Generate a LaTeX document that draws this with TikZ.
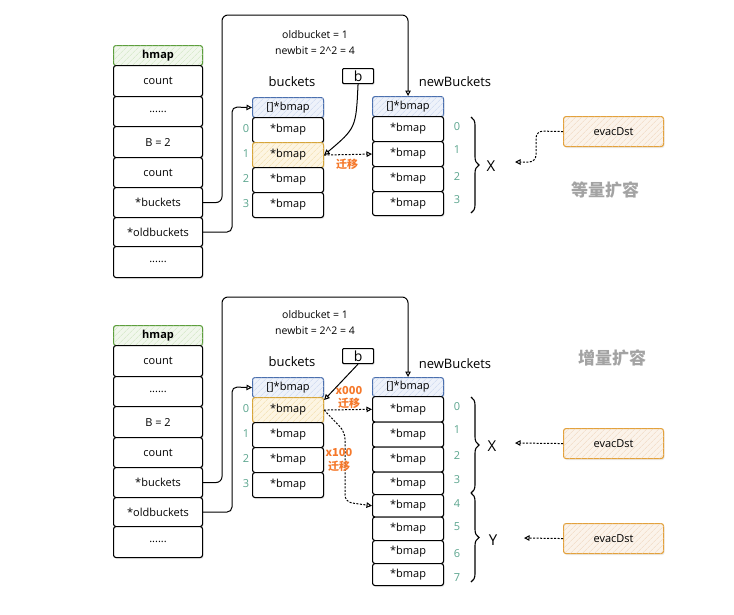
\documentclass[tikz,border=0pt]{standalone}
\usepackage{fontspec}
\setmainfont{Open Sans}
\newfontfamily\cjk{Noto Sans CJK SC}
\usetikzlibrary{arrows.meta,patterns.meta,decorations.pathreplacing,shadows,calc}
\definecolor{tealc}{HTML}{5BA58E}
\definecolor{orng}{HTML}{F5782A}
\definecolor{gB}{HTML}{5C9E3C}\definecolor{gF}{HTML}{F1F7EC}\definecolor{gH}{HTML}{CFE5C0}
\definecolor{bB}{HTML}{4A6FAE}\definecolor{bF}{HTML}{EEF2FA}\definecolor{bH}{HTML}{C9D6EE}
\definecolor{yB}{HTML}{D6A53A}\definecolor{yF}{HTML}{FDF5E2}\definecolor{yH}{HTML}{F2DDAA}
\definecolor{eB}{HTML}{E3A13B}\definecolor{eF}{HTML}{FBF3EA}\definecolor{eH}{HTML}{EFD6BE}
\definecolor{grayt}{HTML}{A3A3A3}
\tikzset{
  cell/.style={draw=black, line width=1.1pt, rounded corners=2.5pt, fill=white, inner sep=0pt,
    anchor=north west, font=\fontsize{11}{12}\selectfont,
    drop shadow={opacity=0.15, shadow xshift=1pt, shadow yshift=-1.5pt}},
  hatched/.style n args={3}{draw=#1, fill=#2,
    postaction={pattern={Lines[angle=45,distance=4pt,line width=0.5pt]}, pattern color=#3}},
  hdrG/.style={hatched={gB}{gF}{gH}},
  hdrB/.style={hatched={bB}{bF}{bH}},
  hl/.style={hatched={yB}{yF}{yH}},
  evbox/.style={cell, hatched={eB}{eF}{eH}, minimum width=100, minimum height=30},
  idx/.style={text=tealc, font=\fontsize{11}{12}\selectfont, inner sep=0pt},
  lbl/.style={font=\fontsize{10.5}{12}\selectfont, inner sep=0pt},
  ttl/.style={font=\fontsize{13}{14}\selectfont, inner sep=0pt},
  xy/.style={font=\fontsize{15}{16}\selectfont, inner sep=0pt},
  orlbl/.style={text=orng, font=\cjk\bfseries\fontsize{11}{12}\selectfont, inner sep=0pt},
  big/.style={text=grayt, font=\cjk\bfseries\fontsize{17}{20}\selectfont, inner sep=0pt},
  arr/.style={-{Triangle[open,length=5.5pt,width=5.5pt]}, line width=1pt},
  dasharr/.style={arr, dash pattern=on 2pt off 1.5pt},
  brc/.style={decorate, decoration={brace, amplitude=8pt}, line width=1.1pt},
}
\newcommand\commonpart[2]{%
  \node[cell,hdrG,minimum width=89,minimum height=20,font=\bfseries\fontsize{11}{12}\selectfont] (#1hh) at (113,45) {hmap};
  \node[cell,minimum width=89,minimum height=31] (#1h1) at (113,65) {count};
  \node[cell,minimum width=89,minimum height=30] (#1h2) at (113,96) {......};
  \node[cell,minimum width=89,minimum height=31] (#1h3) at (113,126) {B = 2};
  \node[cell,minimum width=89,minimum height=30] (#1h4) at (113,157) {count};
  \node[cell,minimum width=89,minimum height=30] (#1h5) at (113,187) {*buckets};
  \node[cell,minimum width=89,minimum height=29] (#1h6) at (113,217) {*oldbuckets};
  \node[cell,minimum width=89,minimum height=31] (#1h7) at (113,246) {......};
  \node[lbl] (#1t1) at (315,35) {oldbucket = 1};
  \node[lbl] (#1t2) at (315,51) {newbit = 2\^{}2 = 4};
  \node[ttl] (#1bt) at (292,82) {buckets};
  \node[cell,minimum width=31,minimum height=15,rounded corners=1pt,font=\fontsize{14}{14}\selectfont] (#1bb) at (342,68) {b};
  \node[cell,hdrB,minimum width=71,minimum height=20] (#1bh) at (252,97) {[]*bmap};
  \foreach \i/\y in {0/117,1/142,2/167,3/192}{%
    \ifnum\i=#2\relax
      \node[cell,hl,minimum width=71,minimum height=25] (#1b\i) at (252,\y) {*bmap};
    \else
      \node[cell,minimum width=71,minimum height=25] (#1b\i) at (252,\y) {*bmap};
    \fi
    \node[idx] (#1bi\i) at (246,\y+12) {\i};
  }
}
\begin{document}
\begin{tikzpicture}[x=1pt,y=-1pt]
\fill[white] (0,0) rectangle (734,614);
\useasboundingbox (0,0) rectangle (734,614);

% ---------- top diagram ----------
\commonpart{T}{1}
\node[ttl] (Tnt) at (455,82) {newBuckets};
\node[cell,hdrB,minimum width=71,minimum height=20] (Tnh) at (372,96) {[]*bmap};
\foreach \i/\y/\h/\ly in {0/116/25/127,1/141/25/150,2/166/25/177,3/191/24/200}{%
  \node[cell,minimum width=71,minimum height=\h] (Tn\i) at (372,\y) {*bmap};
  \node[idx] (Tni\i) at (457,\ly) {\i};
}
\draw[brc] (471,117) -- (471,213);
\node[xy] (TX) at (491,166) {X};
\node[evbox] (Tev) at (563,116) {evacDst};
\coordinate (TXa) at (515,162);
\node[big] (Tbig) at (605,190) {等量扩容};

\draw[arr, rounded corners=6] (Th5.east) -| (222,15) -| (Tnh.north);
\draw[arr, rounded corners=5] (Th6.east) -| (232,107) -- (Tbh.west);
\draw[arr] (Tbb.south) .. controls (356,128) .. (Tb1.east);
\draw[dasharr] (Tb1.east) -- (Tn1.west);
\node[orlbl] (Tm) at (347,164) {迁移};
\draw[dasharr, rounded corners=7] (Tev.west) -- (536,131) -- (536,162) -- (TXa);

% ---------- bottom diagram ----------
\begin{scope}[yshift=-280pt]
\commonpart{B}{0}
\end{scope}
\node[ttl] (Bnt) at (455,364) {newBuckets};
\node[cell,hdrB,minimum width=71,minimum height=19] (Bnh) at (372,377) {[]*bmap};
\foreach \i/\y/\h/\ly in {0/396/25.5/407,1/421.5/25/430,2/446.5/25/456,3/471.5/22.5/480,4/494/22.5/504,5/516.5/23.5/527,6/540/23/554,7/563/22/578}{%
  \node[cell,minimum width=71,minimum height=\h] (Bn\i) at (372,\y) {*bmap};
  \node[idx] (Bni\i) at (457,\ly) {\i};
}
\draw[brc] (471,397) -- (471,493);
\draw[brc] (471,493) -- (471,582);
\node[xy] (BX) at (492,446) {X};
\node[xy] (BY) at (493,540) {Y};
\node[evbox] (Bev1) at (563,428) {evacDst};
\node[evbox] (Bev2) at (563,523) {evacDst};
\coordinate (BXa) at (515,443);
\coordinate (BYa) at (524,538);
\node[big] (Bbig) at (612,358) {增量扩容};

\draw[arr, rounded corners=6] (Bh5.east) -| (222,297) -| (Bnh.north);
\draw[arr, rounded corners=5] (Bh6.east) -| (232,387) -- (Bbh.west);
\draw[arr] (Bbb.south) -- ($(Bb0.north east)+(0,3)$);
\draw[dasharr] (Bb0.east) -- (Bn0.west);
\node[orlbl] (Bm1a) at (349,390) {x000};
\node[orlbl] (Bm1b) at (349,403) {迁移};
\draw[dasharr, rounded corners=7] (Bb0.east) -- (345,432) -- (345,502) -- (Bn4.west);
\node[orlbl] (Bm2a) at (339,452) {x100};
\node[orlbl] (Bm2b) at (339,466) {迁移};
\draw[dasharr] (Bev1.west) -- (BXa);
\draw[dasharr] (Bev2.west) -- (BYa);
\end{tikzpicture}
\end{document}
